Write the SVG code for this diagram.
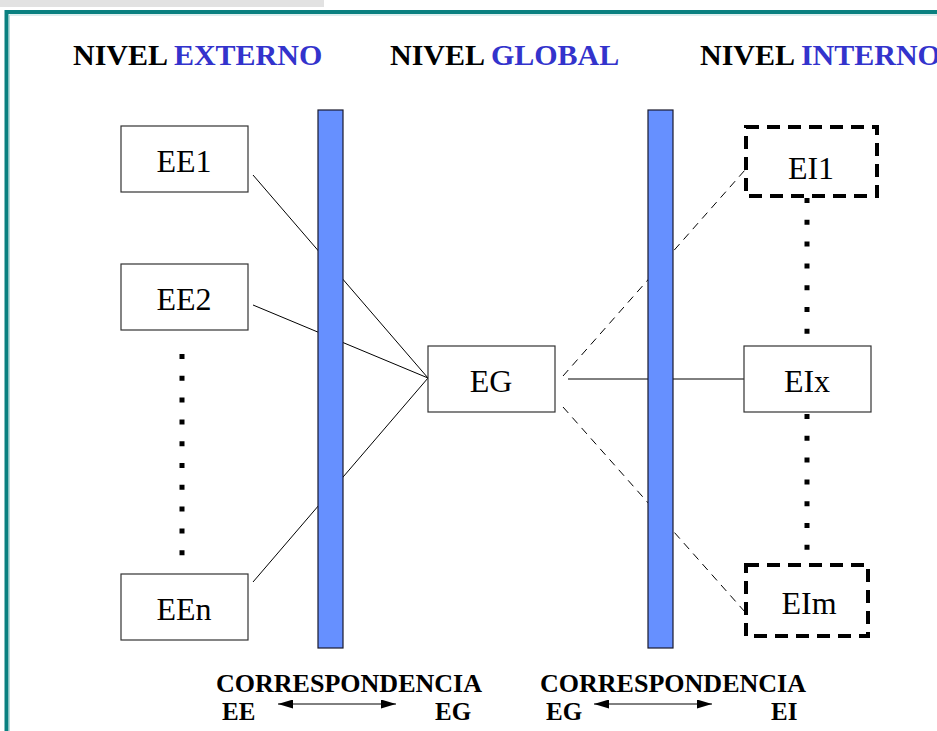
<svg xmlns="http://www.w3.org/2000/svg" width="937" height="731" viewBox="0 0 937 731">
<style>
.hdr{font-family:"Liberation Serif","Times New Roman",serif;font-weight:bold;font-size:30px;fill:#000}
.blue{fill:#3333cc}
.lbl{font-family:"Liberation Serif","Times New Roman",serif;font-size:32px;fill:#000;text-anchor:middle}
.cor{font-family:"Liberation Serif","Times New Roman",serif;font-weight:bold;font-size:25px;fill:#000}
.box{fill:#fff;stroke:#333;stroke-width:1.2}
.dbox{fill:#fff;stroke:#000;stroke-width:4;stroke-dasharray:13 8}
.bar{fill:#6690ff;stroke:#1a1a2e;stroke-width:1.2}
.ln{stroke:#000;stroke-width:1;fill:none}
.dl{stroke:#000;stroke-width:1;fill:none;stroke-dasharray:8 6}
.dots{stroke:#000;stroke-width:5;stroke-dasharray:5 16.8;fill:none}
</style>
<defs>
<marker id="ah" viewBox="0 0 15 9" refX="15" refY="4.5" markerWidth="15" markerHeight="9" markerUnits="userSpaceOnUse" orient="auto-start-reverse">
<path d="M0,0 L15,4.5 L0,9 Z" fill="#000"/>
</marker>
</defs>
<rect x="0" y="0" width="937" height="731" fill="#fff"/>
<rect x="0" y="0" width="324" height="7" fill="#e2e2e2"/>
<path d="M6.5,731 V12 H937" fill="none" stroke="#0a8080" stroke-width="4"/>
<path d="M9.5,731 V15 H937" fill="none" stroke="#b8dcdc" stroke-width="1"/>

<g id="headers">
<text class="hdr" x="73" y="65">NIVEL <tspan class="blue">EXTERNO</tspan></text>
<text class="hdr" x="390" y="65">NIVEL <tspan class="blue">GLOBAL</tspan></text>
<text class="hdr" x="700" y="65">NIVEL <tspan class="blue">INTERNO</tspan></text>
</g>

<g id="connectors">
<line class="ln" x1="253" y1="175" x2="428" y2="378"/>
<line class="ln" x1="253" y1="305" x2="428" y2="378"/>
<line class="ln" x1="253" y1="582" x2="428" y2="378"/>
<line class="dl" x1="563" y1="376" x2="745" y2="170"/>
<line class="dl" x1="563" y1="407" x2="745" y2="612"/>
<line class="ln" x1="568" y1="379" x2="744" y2="379"/>
<line class="dots" x1="182" y1="354" x2="182" y2="556"/>
<line class="dots" x1="807" y1="198" x2="807" y2="346"/>
<line class="dots" x1="807" y1="414" x2="807" y2="564"/>
</g>

<g id="bar-left"><rect class="bar" x="318" y="110" width="25" height="538"/></g>
<g id="bar-right"><rect class="bar" x="648" y="110" width="25" height="538"/></g>

<g id="EE1"><rect class="box" x="121" y="126" width="127" height="66"/><text class="lbl" x="184" y="172">EE1</text></g>
<g id="EE2"><rect class="box" x="121" y="264" width="127" height="66"/><text class="lbl" x="184" y="310">EE2</text></g>
<g id="EEn"><rect class="box" x="121" y="574" width="127" height="66"/><text class="lbl" x="184" y="620">EEn</text></g>
<g id="EG"><rect class="box" x="428" y="346" width="127" height="66"/><text class="lbl" x="491" y="392">EG</text></g>
<g id="EI1"><rect class="dbox" x="746" y="127" width="131" height="69"/><text class="lbl" x="811" y="179">EI1</text></g>
<g id="EIx"><rect class="box" x="744" y="346" width="127" height="66"/><text class="lbl" x="807" y="392">EIx</text></g>
<g id="EIm"><rect class="dbox" x="746" y="565" width="122" height="71"/><text class="lbl" x="809" y="614">EIm</text></g>

<g id="corr1">
<text class="cor" x="216" y="692" textLength="266" lengthAdjust="spacingAndGlyphs">CORRESPONDENCIA</text>
<text class="cor" x="222" y="720">EE</text>
<line class="ln" x1="278" y1="704" x2="396" y2="704" marker-start="url(#ah)" marker-end="url(#ah)"/>
<text class="cor" x="435" y="720">EG</text>
</g>
<g id="corr2">
<text class="cor" x="540" y="692" textLength="266" lengthAdjust="spacingAndGlyphs">CORRESPONDENCIA</text>
<text class="cor" x="546" y="720">EG</text>
<line class="ln" x1="594" y1="704" x2="712" y2="704" marker-start="url(#ah)" marker-end="url(#ah)"/>
<text class="cor" x="771" y="720">EI</text>
</g>
</svg>
